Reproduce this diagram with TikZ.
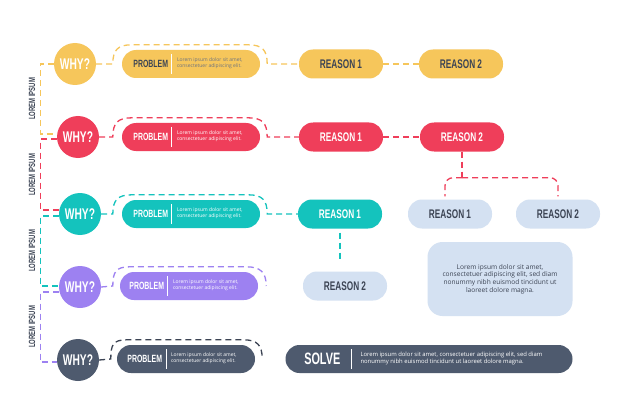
\documentclass[tikz,border=0pt]{standalone}
\usepackage{xcolor}
\usepackage{fontspec}
\setmainfont{Open Sans}
\newfontfamily\headfont[FakeStretch=0.66]{Liberation Sans}
\usetikzlibrary{calc}
\usetikzlibrary{positioning}

\definecolor{ylw}{HTML}{F6C65B}
\definecolor{rd}{HTML}{EF3E5A}
\definecolor{tl}{HTML}{14C3BD}
\definecolor{prp}{HTML}{9D81F1}
\definecolor{slt}{HTML}{4E5A6E}
\definecolor{lgt}{HTML}{D4E1F2}
\definecolor{ink}{HTML}{3C4454}

\begin{document}
\begin{tikzpicture}[x=1pt,y=-1pt,
	why/.style={circle,minimum size=42pt,inner sep=0pt,text=white,font=\headfont\bfseries\fontsize{15.5}{15.5}\selectfont},
	pill/.style={rounded corners=14pt,minimum width=138pt,minimum height=28pt,inner sep=0pt},
	reason/.style={rounded corners=14pt,minimum width=84pt,minimum height=29pt,inner sep=0pt,font=\headfont\bfseries\fontsize{12.5}{12.5}\selectfont},
	probtxt/.style={inner sep=0pt,font=\headfont\bfseries\fontsize{10.5}{10.5}\selectfont},
	smalltxt/.style={inner sep=0pt,anchor=west,align=left,font=\fontsize{5}{5.8}\selectfont},
	side/.style={inner sep=0pt,rotate=90,text=ink,font=\headfont\bfseries\fontsize{9}{9}\selectfont},
	link/.style={dash pattern=on 6pt off 4pt,line width=1.3pt},
	sep/.style={line width=0.9pt}]
	\useasboundingbox (0,0) rectangle (626,417);
	\fill[white] (0,0) rectangle (626,417);
	% first row
	\node[why,fill=ylw] (why1) at (75,64) {WHY?};
	\node[pill,fill=ylw] (prob1) at (191,64) {};
	\node[probtxt,text=ink] (pl1) at ($(prob1.west)+(29,0)$) {PROBLEM};
	\draw[sep,white] ($(prob1.west)+(50,-10)$) -- ++(0,20);
	\node[smalltxt,text=ink!75] (pt1) at ($(prob1.west)+(55,-1)$) {Lorem ipsum dolor sit amet,\\consectetuer adipiscing elit.};
	\node[reason,fill=ylw,text=ink] (r11) at (341,64) {REASON 1};
	\node[reason,fill=ylw,text=ink] (r12) at (461,64) {REASON 2};
	\draw[link,ylw] (why1.east) -- ($(prob1.west)+(-9,0)$) .. controls +(0,-14) and +(-14,0) .. ($(prob1.north west)+(10,-5)$) -- ($(prob1.north east)+(-12,-5)$) .. controls +(14,0) and +(0,-14) .. ($(prob1.east)+(7,0)$) -- (r11.west);
	\draw[link,ylw] (r11) -- (r12);
	% second row
	\node[why,fill=rd] (why2) at (78,137) {WHY?};
	\node[pill,fill=rd] (prob2) at (191,137) {};
	\node[probtxt,text=white] (pl2) at ($(prob2.west)+(29,0)$) {PROBLEM};
	\draw[sep,white] ($(prob2.west)+(50,-10)$) -- ++(0,20);
	\node[smalltxt,text=white] (pt2) at ($(prob2.west)+(55,-1)$) {Lorem ipsum dolor sit amet,\\consectetuer adipiscing elit.};
	\node[reason,fill=rd,text=white] (r21) at (341,137) {REASON 1};
	\node[reason,fill=rd,text=white] (r22) at (462,137) {REASON 2};
	\draw[link,rd] (why2.east) -- ($(prob2.west)+(-9,0)$) .. controls +(0,-14) and +(-14,0) .. ($(prob2.north west)+(10,-5)$) -- ($(prob2.north east)+(-12,-5)$) .. controls +(14,0) and +(0,-14) .. ($(prob2.east)+(7,0)$) -- (r21.west);
	\draw[link,rd] (r21) -- (r22);
	\node[reason,fill=lgt,text=ink] (lr1) at (450,214) {REASON 1};
	\node[reason,fill=lgt,text=ink] (lr2) at (558,214) {REASON 2};
	\draw[link,rd] (r22.south) -- ++(0,26) coordinate (split);
	\draw[link,rd,rounded corners=8pt,shorten >=3pt] (split) -| ($(lr1.north)+(-5,0)$);
	\draw[link,rd,rounded corners=8pt,shorten >=3pt] (split) -| (lr2.north);
	\node[fill=lgt,rounded corners=15pt,minimum width=145pt,minimum height=74pt,align=center,text=ink,font=\fontsize{6.6}{7.8}\selectfont] (note) at (500,279) {Lorem ipsum dolor sit amet,\\consectetuer adipiscing elit, sed diam\\nonummy nibh euismod tincidunt ut\\laoreet dolore magna.};
	% third row
	\node[why,fill=tl] (why3) at (80,214) {WHY?};
	\node[pill,fill=tl] (prob3) at (191,214) {};
	\node[probtxt,text=white] (pl3) at ($(prob3.west)+(29,0)$) {PROBLEM};
	\draw[sep,white] ($(prob3.west)+(50,-10)$) -- ++(0,20);
	\node[smalltxt,text=white] (pt3) at ($(prob3.west)+(55,-1)$) {Lorem ipsum dolor sit amet,\\consectetuer adipiscing elit.};
	\node[reason,fill=tl,text=white] (r31) at (340,214) {REASON 1};
	\node[reason,fill=lgt,text=ink] (lr3) at (345,286) {REASON 2};
	\draw[link,tl] (why3.east) -- ($(prob3.west)+(-9,0)$) .. controls +(0,-14) and +(-14,0) .. ($(prob3.north west)+(10,-5)$) -- ($(prob3.north east)+(-12,-5)$) .. controls +(14,0) and +(0,-14) .. ($(prob3.east)+(7,0)$) -- (r31.west);
	\draw[link,tl,shorten <=4pt,shorten >=10pt] (r31.south) -- (r31.south |- lr3.north);
	% fourth row
	\node[why,fill=prp] (why4) at (80,287) {WHY?};
	\node[pill,fill=prp] (prob4) at (189,286) {};
	\node[probtxt,text=white] (pl4) at ($(prob4.west)+(27,0)$) {PROBLEM};
	\draw[sep,white] ($(prob4.west)+(48,-10)$) -- ++(0,20);
	\node[smalltxt,text=white] (pt4) at ($(prob4.west)+(53,-1)$) {Lorem ipsum dolor sit amet,\\consectetuer adipiscing elit.};
	\draw[link,prp] (why4.east) -- ($(prob4.west)+(-7,0)$) .. controls +(0,-14) and +(-14,0) .. ($(prob4.north west)+(10,-5)$) -- ($(prob4.north east)+(-12,-5)$) .. controls +(14,0) and +(0,-14) .. ($(prob4.east)+(8,0)$);
	% fifth row
	\node[why,fill=slt] (why5) at (78,360) {WHY?};
	\node[pill,fill=slt] (prob5) at (186,359) {};
	\node[probtxt,text=white] (pl5) at ($(prob5.west)+(28,0)$) {PROBLEM};
	\draw[sep,white] ($(prob5.west)+(50,-10)$) -- ++(0,20);
	\node[smalltxt,text=white] (pt5) at ($(prob5.west)+(54,-1)$) {Lorem ipsum dolor sit amet,\\consectetuer adipiscing elit.};
	\draw[link,ink] (why5.east) -- ($(prob5.west)+(-6,0)$) .. controls +(0,-14) and +(-14,0) .. ($(prob5.north west)+(10,-5)$) -- ($(prob5.north east)+(-12,-5)$) .. controls +(14,0) and +(0,-14) .. ($(prob5.east)+(7,0)$);
	\node[pill,fill=slt,minimum width=287pt] (solve) at (429,359) {};
	\node[inner sep=0pt,text=white,font=\headfont\bfseries\fontsize{16.5}{16.5}\selectfont] (sl) at ($(solve.west)+(37,0)$) {SOLVE};
	\draw[sep,white] ($(solve.west)+(66,-10)$) -- ++(0,20);
	\node[smalltxt,text=white,font=\fontsize{5.9}{7}\selectfont] (st) at ($(solve.west)+(75,-1)$) {Lorem ipsum dolor sit amet, consectetuer adipiscing elit, sed diam\\nonummy nibh euismod tincidunt ut laoreet dolore magna.};
	% side brackets
	\draw[link,ylw] (why1.west) -- +(-13.5,0) |- ([yshift=3pt]why2.west);
	\draw[link,rd] ([yshift=-2pt]why2.west) -- +(-16.5,0) |- ([yshift=4pt]why3.west);
	\draw[link,tl] ([yshift=-2pt]why3.west) -- +(-18.5,0) |- ([yshift=1pt]why4.west);
	\draw[link,prp] ([yshift=-5pt]why4.west) -- +(-18.5,0) |- ([yshift=-2pt]why5.west);
	\node[side] (lab1) at (32,99) {LOREM IPSUM};
	\node[side] (lab2) at (32,175) {LOREM IPSUM};
	\node[side] (lab3) at (32,251) {LOREM IPSUM};
	\node[side] (lab4) at (32,327) {LOREM IPSUM};
\end{tikzpicture}
\end{document}
